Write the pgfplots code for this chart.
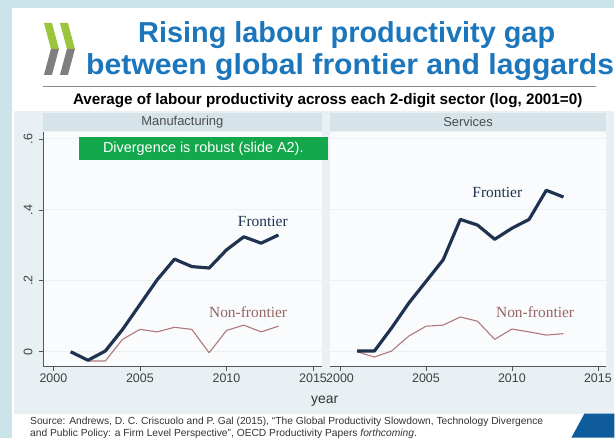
\documentclass[border=0pt]{standalone}
\usepackage{pgfplots}
\pgfplotsset{compat=1.18}
\usepackage{fontspec}
\setmainfont{Liberation Sans}
\newfontfamily\serif{Liberation Serif}

\definecolor{sideblue}{HTML}{CBE4EA}
\definecolor{chartbg}{HTML}{E8F0F3}
\definecolor{stripbg}{HTML}{D6E4EA}
\definecolor{plotbg}{HTML}{F9FBFC}
\definecolor{gridc}{HTML}{EBF1F3}
\definecolor{titleblue}{HTML}{1C76BC}
\definecolor{boxgreen}{HTML}{12A84B}
\definecolor{frontc}{HTML}{1F3350}
\definecolor{nonfc}{HTML}{B07878}
\definecolor{oecdgreen}{HTML}{9BC53D}
\definecolor{oecdgrey}{HTML}{7F7F7F}
\definecolor{cornerblue}{HTML}{0E5C9C}
\definecolor{axisc}{HTML}{555555}

% frontier and non-frontier paths, log labour productivity, 2001=0
\pgfplotstableread{
year  mfront  mnon    sfront  snon
2001  0.000   0.000   0.002   0.000
2002 -0.024  -0.026   0.002  -0.015
2003  0.002  -0.026   0.067   0.002
2004  0.063   0.035   0.137   0.044
2005  0.133   0.063   0.198   0.072
2006  0.203   0.056   0.259   0.075
2007  0.261   0.069   0.373   0.098
2008  0.240   0.063   0.357   0.086
2009  0.236  -0.003   0.317   0.035
2010  0.287   0.060   0.348   0.064
2011  0.324   0.075   0.373   0.056
2012  0.306   0.056   0.455   0.047
2013  0.329   0.072   0.436   0.051
}\prod

\pgfplotsset{
  panel/.style={
    scale only axis, height=235bp, clip=false,
    xmin=1999.4, xmax=2015.5, ymin=-0.042, ymax=0.6197,
    axis background/.style={fill=plotbg},
    separate axis lines,
    axis x line*=bottom, axis y line*=left,
    axis line style={-, draw=axisc, line width=0.6pt},
    tick style={draw=axisc, line width=0.6pt},
    tick align=outside, major tick length=4bp,
    xtick={2000,2005,2010,2015},
    ytick={0,0.2,0.4,0.6},
    ymajorgrids, grid style={gridc, line width=0.8pt},
    xticklabel style={/pgf/number format/1000 sep={}},
    /pgf/number format/assume math mode=true,
    tick label style={font=\fontsize{12.5}{12.5}\selectfont, text=black!75},
  },
  front/.style={frontc, line width=3.2pt, line join=round},
  nonf/.style={nonfc, line width=1.1pt, line join=round},
}

\begin{document}
\begin{tikzpicture}[x=1bp,y=1bp]
% slide
\fill[sideblue] (0,0) rectangle (615,438);
\fill[white] (12,0) rectangle (615,430);
% logo
\fill[oecdgreen] (44,415) -- (52,415) -- (59,389) -- (51,389) -- cycle;
\fill[oecdgrey] (51,389) -- (59,389) -- (52,363) -- (44,363) -- cycle;
\fill[oecdgreen] (60,415) -- (68,415) -- (75,389) -- (67,389) -- cycle;
\fill[oecdgrey] (67,389) -- (75,389) -- (68,363) -- (60,363) -- cycle;
% title
\node[anchor=base, text=titleblue, font=\fontsize{29}{30}\selectfont\bfseries, inner sep=0]
  at (347,395) {Rising labour productivity gap};
\node[anchor=base, text=titleblue, font=\fontsize{29}{30}\selectfont\bfseries, inner sep=0, xscale=1.045]
  at (350.5,363) {between global frontier and laggards};
\draw[black!45, line width=0.8pt] (43,352) -- (597,352);
\node[anchor=base, font=\fontsize{15.3}{15.3}\selectfont\bfseries, inner sep=0]
  at (328,333) {Average of labour productivity across each 2-digit sector (log, 2001=0)};
% chart area
\fill[chartbg] (14,24) rectangle (615,327);
\fill[stripbg] (43,307) rectangle (322,325);
\fill[stripbg] (330,307) rectangle (607,325);
\node[font=\fontsize{13}{13}\selectfont, text=black!70] at (182.5,316) {Manufacturing};
\node[font=\fontsize{13}{13}\selectfont, text=black!70] at (468.5,316) {Services};

\begin{axis}[panel, at={(43bp,71bp)}, anchor=south west, width=279bp,
    yticklabels={0,.2,.4,.6},
    yticklabel style={rotate=90, anchor=south, yshift=3bp}]
  \addplot[nonf] table[x=year, y=mnon] {\prod};
  \addplot[front] table[x=year, y=mfront] {\prod};
  \node[text=frontc, font=\serif\fontsize{15.5}{15.5}\selectfont] at (axis cs:2012.1,0.366) {Frontier};
  \node[text=nonfc!85!black, font=\serif\fontsize{15.5}{15.5}\selectfont] at (axis cs:2011.25,0.113) {Non-frontier};
\end{axis}

\begin{axis}[panel, at={(330bp,71bp)}, anchor=south west, width=277bp,
    yticklabels={}, y axis line style={draw=none}, ytick style={draw=none}]
  \addplot[nonf] table[x=year, y=snon] {\prod};
  \addplot[front] table[x=year, y=sfront] {\prod};
  \node[text=frontc, font=\serif\fontsize{15.5}{15.5}\selectfont] at (axis cs:2009.15,0.448) {Frontier};
  \node[text=nonfc!85!black, font=\serif\fontsize{15.5}{15.5}\selectfont] at (axis cs:2011.35,0.113) {Non-frontier};
\end{axis}

% annotation box
\fill[boxgreen] (79,278) rectangle (328,301);
\node[text=white, font=\fontsize{14.5}{14.5}\selectfont] at (203.5,289.5) {Divergence is robust (slide A2).};
% x title
\node[font=\fontsize{14}{14}\selectfont, text=black!80] at (325,36) {year};
% source
\node[anchor=base west, inner sep=0, font=\fontsize{10.3}{10.3}\selectfont, text=black!80] at (30,13.5)
  {Source: Andrews, D. C. Criscuolo and P. Gal (2015), ``The Global Productivity Slowdown, Technology Divergence};
\node[anchor=base west, inner sep=0, font=\fontsize{10.3}{10.3}\selectfont, text=black!80] at (30,1.5)
  {and Public Policy: a Firm Level Perspective'', OECD Productivity Papers \textit{forthcoming}.};
% corner shape
\fill[cornerblue] (572,0) -- (585,24) -- (615,24) -- (615,0) -- cycle;
\end{tikzpicture}
\end{document}
